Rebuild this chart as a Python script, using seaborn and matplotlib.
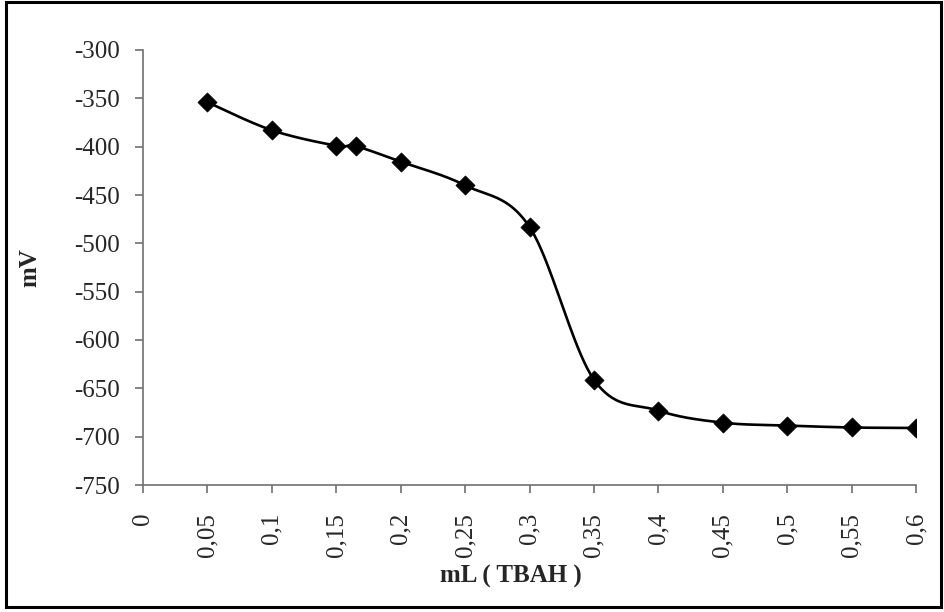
import numpy as np
import pandas as pd
import matplotlib
matplotlib.use("Agg")
import matplotlib.pyplot as plt
import seaborn as sns
from matplotlib.patches import Rectangle

# data
volume_ml = [0.05, 0.10, 0.15, 0.165, 0.20, 0.25, 0.30, 0.35, 0.40, 0.45, 0.50, 0.55, 0.60]
potential_mv = [-354, -383, -399, -399.5, -415.5, -440, -483, -641, -673, -685.5, -688.5, -690.5, -691]
x_ticks = [0, 0.05, 0.1, 0.15, 0.2, 0.25, 0.3, 0.35, 0.4, 0.45, 0.5, 0.55, 0.6]
y_ticks = [-750, -700, -650, -600, -550, -500, -450, -400, -350, -300]

sns.set_style("white")
plt.rcParams['font.family'] = ['Liberation Serif', 'DejaVu Serif']

df = pd.DataFrame({"x": volume_ml, "y": potential_mv})

# Excel-like smoothed curve (Catmull-Rom / Bezier through the points)
def smooth(xs, ys, n=40):
    P = np.column_stack([xs, ys]).astype(float)
    P = np.vstack([P[0], P, P[-1]])
    out = []
    for i in range(1, len(P) - 2):
        p0, p1, p2, p3 = P[i - 1], P[i], P[i + 1], P[i + 2]
        c1 = p1 + (p2 - p0) / 6.0
        c2 = p2 - (p3 - p1) / 6.0
        t = np.linspace(0, 1, n)[:, None]
        seg = ((1 - t) ** 3) * p1 + 3 * ((1 - t) ** 2) * t * c1 + 3 * (1 - t) * t ** 2 * c2 + t ** 3 * p2
        out.append(seg if i == 1 else seg[1:])
    return np.vstack(out)

curve = smooth(volume_ml, potential_mv)
cdf = pd.DataFrame({"x": curve[:, 0], "y": curve[:, 1], "o": np.arange(len(curve))})

fig = plt.figure(figsize=(9.44, 6.12), dpi=100)
ax = fig.add_axes([143 / 944, 1 - 485 / 612, (916 - 143) / 944, (485 - 50) / 612])

sns.lineplot(data=cdf, x="x", y="y", sort=False, estimator=None, color="black", linewidth=1.9, ax=ax)
sns.scatterplot(data=df, x="x", y="y", marker="D", s=95, color="black", edgecolor="black", linewidth=0.5, ax=ax, zorder=5)

ax.set_xlim(0, 0.6)
ax.set_ylim(-750, -300)
ax.set_xticks(x_ticks)
ax.set_xticklabels([("%g" % v).replace(".", ",") for v in x_ticks], rotation=90, fontsize=18, va="top", ha="center")
ax.set_yticks(y_ticks)
ax.set_yticklabels([str(v) for v in y_ticks], fontsize=18)

for s in ["top", "right"]:
    ax.spines[s].set_visible(False)
for s in ["left", "bottom"]:
    ax.spines[s].set_color("#707070")
    ax.spines[s].set_linewidth(1.2)
ax.tick_params(axis="both", which="major", direction="out", length=6, width=1.2, color="#707070", left=True, bottom=True)
ax.tick_params(axis="y", pad=11)
ax.tick_params(axis="x", pad=14)
ax.grid(False)

ax.set_xlabel("mL ( TBAH )", fontsize=18, fontweight="bold")
ax.set_ylabel("mV", fontsize=18, fontweight="bold")
ax.xaxis.set_label_coords((511 - 143) / (916 - 143), -(565 - 485) / (485 - 50))
ax.yaxis.set_label_coords(-(143 - 41) / (916 - 143), 0.5)

fig.patches.append(Rectangle((6 / 944, 1 - 607 / 612), 935 / 944, 605 / 612, transform=fig.transFigure,
                             fill=False, edgecolor="black", linewidth=2.2))

fig.savefig("out.png", dpi=100)
